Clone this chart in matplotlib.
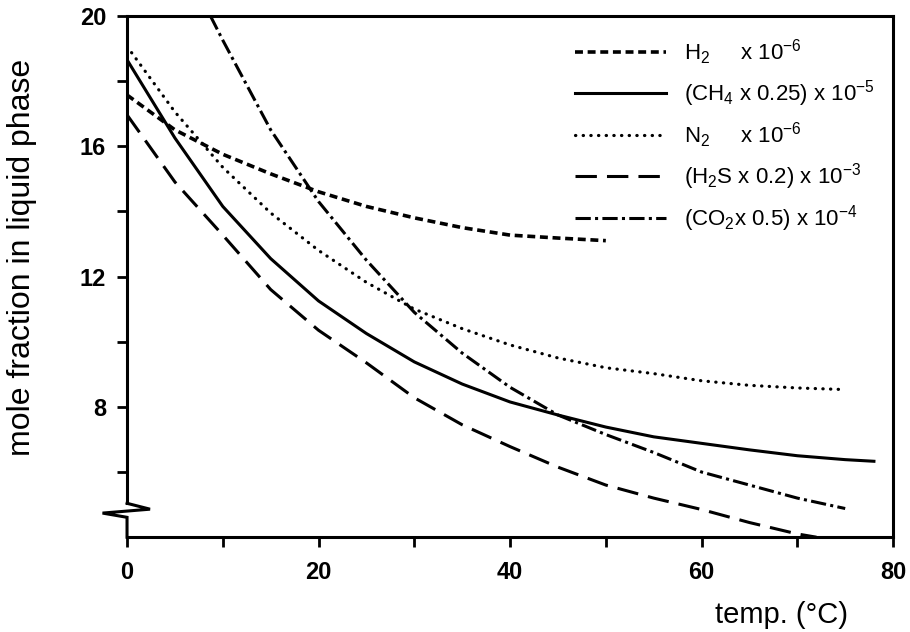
import matplotlib
matplotlib.use("Agg")
import matplotlib.pyplot as plt

plt.rcParams["font.family"] = ["Liberation Sans", "DejaVu Sans"]
plt.rcParams["mathtext.fontset"] = "custom"
plt.rcParams["mathtext.rm"] = "Liberation Sans"
plt.rcParams["mathtext.it"] = "Liberation Sans"
plt.rcParams["mathtext.bf"] = "Liberation Sans:bold"

# temperatures (deg C) and scaled mole fractions for each gas
h2_t = [0, 5, 10, 15, 20, 25, 30, 35, 40, 45, 50]
h2_x = [17.57, 16.5, 15.75, 15.15, 14.6, 14.15, 13.8, 13.5, 13.27, 13.18, 13.1]

ch4_t = [0, 5, 10, 15, 20, 25, 30, 35, 40, 45, 50, 55, 60, 65, 70, 75, 78]
ch4_x = [18.65, 16.25, 14.15, 12.55, 11.25, 10.25, 9.38, 8.7, 8.15, 7.75, 7.38,
         7.08, 6.88, 6.68, 6.5, 6.38, 6.33]

n2_t = [0, 5, 10, 15, 20, 25, 30, 35, 40, 45, 50, 55, 60, 65, 70, 75]
n2_x = [19.06, 17.05, 15.35, 13.95, 12.8, 11.82, 11.0, 10.4, 9.9, 9.5, 9.2,
        9.02, 8.8, 8.66, 8.58, 8.53]

h2s_t = [0, 5, 10, 15, 20, 25, 30, 35, 40, 45, 50, 55, 60, 65, 70, 72]
h2s_x = [16.96, 14.9, 13.27, 11.6, 10.35, 9.35, 8.28, 7.45, 6.78, 6.15, 5.6,
         5.2, 4.85, 4.45, 4.1, 4.0]

co2_t = [8.7, 10, 15, 20, 25, 30, 35, 40, 45, 50, 55, 60, 65, 70, 75]
co2_x = [20.0, 19.25, 16.5, 14.3, 12.5, 10.9, 9.65, 8.6, 7.75, 7.15, 6.6,
         6.0, 5.6, 5.2, 4.88]

labels = [
    r"H$_{\mathrm{2}}$     x 10$^{\mathrm{-6}}$",
    r"(CH$_{\mathrm{4}}$ x 0.25) x 10$^{\mathrm{-5}}$",
    r"N$_{\mathrm{2}}$     x 10$^{\mathrm{-6}}$",
    r"(H$_{\mathrm{2}}$S x 0.2) x 10$^{\mathrm{-3}}$",
    r"(CO$_{\mathrm{2}}$x 0.5) x 10$^{\mathrm{-4}}$",
]

fig = plt.figure(figsize=(9.1, 6.32), dpi=100)
ax = fig.add_axes([0.1396, 0.150, 0.8418, 0.825])

lw = 2.2
ax.plot(h2_t, h2_x, color="black", lw=2.6, linestyle=(0, (2.2, 1.3)),
        label=labels[0])
ax.plot(ch4_t, ch4_x, color="black", lw=lw, linestyle="-", label=labels[1])
ax.plot(n2_t, n2_x, color="black", lw=2.3, linestyle=(0, (0.1, 2.3)),
        dash_capstyle="round", label=labels[2])
ax.plot(h2s_t, h2s_x, color="black", lw=lw, linestyle=(0, (7, 3.3)),
        label=labels[3])
ax.plot(co2_t, co2_x, color="black", lw=lw, linestyle=(0, (5, 1.4, 1, 1.4)),
        label=labels[4])

ax.set_xlim(0, 80)
ax.set_ylim(4, 20)
ax.set_xticks([0, 20, 40, 60, 80])
ax.set_xticks([10, 30, 50, 70], minor=True)
ax.set_yticks([8, 12, 16, 20])
ax.set_yticks([6, 10, 14, 18], minor=True)
ax.tick_params(which="both", direction="out", length=7, width=2,
               labelsize=17, pad=8)
ax.tick_params(axis="x", which="both", pad=10)
for lab in ax.get_xticklabels() + ax.get_yticklabels():
    lab.set_fontweight("bold")

for side in ["top", "right", "bottom", "left"]:
    ax.spines[side].set_linewidth(2.2)

# broken y axis near the bottom
ax.spines["left"].set_bounds(5.04, 20)
brk_x = [0, 0, 0.03, -0.032, 0, 0]
brk_y = [5.04, 5.04, 4.86, 4.74, 4.61, 4.0]
ax.plot(brk_x, brk_y, color="black", lw=2.2, clip_on=False,
        transform=ax.get_yaxis_transform(), solid_joinstyle="miter")

ax.set_ylabel("mole fraction in liquid phase", fontsize=23)
ax.yaxis.set_label_coords(-0.118, 0.537)
ax.set_xlabel("temp. (\u00b0C)", fontsize=21)
ax.xaxis.set_label_coords(0.855, -0.122)

ax.legend(loc="upper left", bbox_to_anchor=(0.585, 0.958), frameon=False,
          fontsize=16, handlelength=4.1, handletextpad=0.8, labelspacing=0.5,
          borderpad=0, borderaxespad=0)

fig.savefig("out.png", dpi=100)
